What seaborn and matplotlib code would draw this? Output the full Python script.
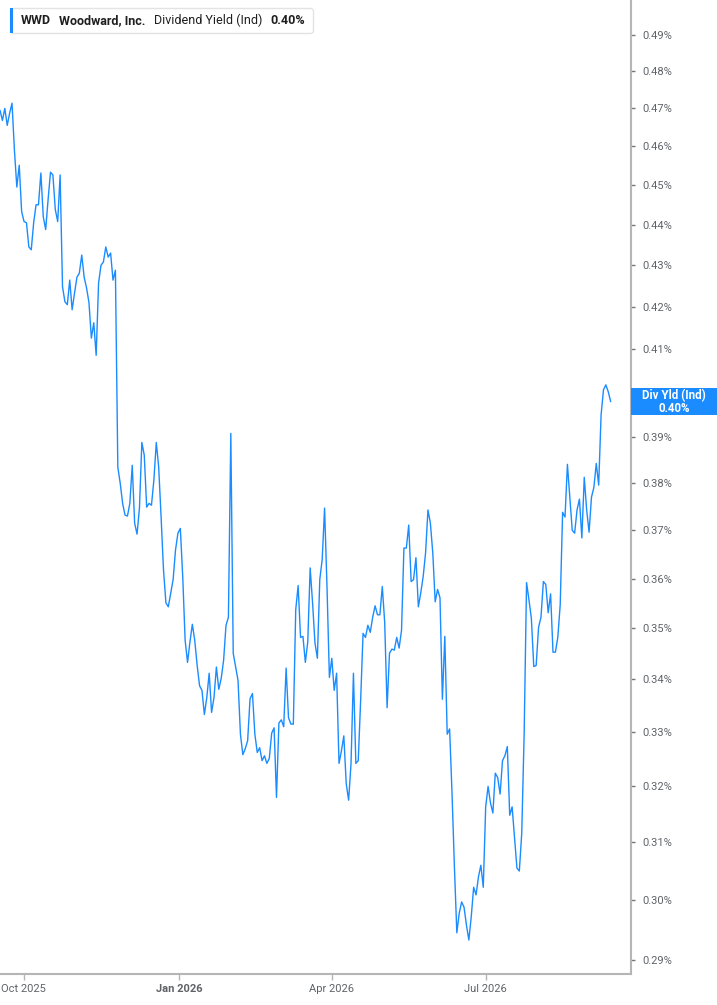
import matplotlib
matplotlib.use("Agg")
import matplotlib.pyplot as plt
from matplotlib.ticker import FixedLocator, FuncFormatter, NullLocator
from matplotlib.offsetbox import AnchoredOffsetbox, HPacker, TextArea, DrawingArea
from matplotlib.patches import Rectangle
import seaborn as sns
import pandas as pd

ticker = "WWD"
company = "Woodward, Inc."
metric = "Dividend Yield (Ind)"
tag_label = "Div Yld (Ind)"

# dividend yield in %, roughly one reading per trading day, Sep 2025 -> Sep 2026
div_yield = [
    0.4695, 0.4668, 0.4700, 0.4655, 0.4687, 0.4714, 0.4590, 0.4495, 0.4551, 0.4433,
    0.4408, 0.4405, 0.4345, 0.4338, 0.4405, 0.4450, 0.4450, 0.4531, 0.4420, 0.4388,
    0.4463, 0.4533, 0.4526, 0.4438, 0.4408, 0.4526, 0.4248, 0.4212, 0.4205, 0.4264,
    0.4193, 0.4233, 0.4271, 0.4281, 0.4325, 0.4271, 0.4245, 0.4210, 0.4126, 0.4162,
    0.4086, 0.4257, 0.4300, 0.4308, 0.4345, 0.4320, 0.4330, 0.4264, 0.4288,
    # late Nov drop
    0.3835, 0.3800, 0.3757, 0.3732, 0.3730, 0.3757, 0.3839, 0.3715, 0.3692, 0.3747,
    0.3889, 0.3861, 0.3749, 0.3757, 0.3753, 0.3807, 0.3889, 0.3835, 0.3728, 0.3618,
    0.3551, 0.3543, 0.3571, 0.3598, 0.3659, 0.3694, 0.3704, 0.3604, 0.3476, 0.3433,
    0.3473, 0.3508, 0.3476, 0.3427, 0.3388, 0.3379, 0.3333, 0.3365, 0.3412, 0.3337,
    0.3365, 0.3424, 0.3381, 0.3402, 0.3437, 0.3506, 0.3522, 0.3909, 0.3451, 0.3424,
    0.3398, 0.3296, 0.3258, 0.3269, 0.3284, 0.3363, 0.3373, 0.3296, 0.3262, 0.3271,
    0.3247,
    # Feb - May
    0.3256, 0.3242, 0.3251, 0.3298, 0.3308, 0.3180, 0.3317, 0.3323, 0.3310, 0.3422,
    0.3327, 0.3315, 0.3315, 0.3537, 0.3586, 0.3482, 0.3484, 0.3433, 0.3473, 0.3622,
    0.3551, 0.3471, 0.3441, 0.3598, 0.3639, 0.3747, 0.3584, 0.3404, 0.3441, 0.3379,
    0.3412, 0.3242, 0.3265, 0.3293, 0.3205, 0.3175, 0.3242, 0.3412, 0.3242, 0.3247,
    0.3360, 0.3490, 0.3482, 0.3506, 0.3492, 0.3522, 0.3545, 0.3527, 0.3527, 0.3584,
    0.3512, 0.3346, 0.3451, 0.3459, 0.3457, 0.3482, 0.3461, 0.3496,
    # May - Aug
    0.3663, 0.3663, 0.3711, 0.3594, 0.3598, 0.3643, 0.3543, 0.3571, 0.3604, 0.3653,
    0.3743, 0.3715, 0.3653, 0.3553, 0.3578, 0.3561, 0.3362, 0.3484, 0.3296, 0.3306,
    0.3188, 0.3057, 0.2945, 0.2978, 0.2997, 0.2988, 0.2958, 0.2933, 0.2972, 0.3022,
    0.3009, 0.3040, 0.3060, 0.3022, 0.3163, 0.3200, 0.3170, 0.3152, 0.3224, 0.3216,
    0.3186, 0.3247, 0.3256, 0.3273, 0.3148, 0.3163, 0.3109, 0.3055, 0.3050, 0.3116,
    0.3296, 0.3592, 0.3557, 0.3520, 0.3425, 0.3427, 0.3502, 0.3522,
    # Aug - Sep
    0.3594, 0.3588, 0.3531, 0.3569, 0.3453, 0.3453, 0.3482, 0.3547, 0.3738, 0.3728,
    0.3841, 0.3770, 0.3700, 0.3694, 0.3743, 0.3766, 0.3684, 0.3813, 0.3743, 0.3696,
    0.3770, 0.3791, 0.3843, 0.3796, 0.3950, 0.4007, 0.4018, 0.4002, 0.3980,
]

y_ticks = [0.29, 0.30, 0.31, 0.32, 0.33, 0.34, 0.35, 0.36, 0.37, 0.38,
           0.39, 0.40, 0.41, 0.42, 0.43, 0.44, 0.45, 0.46, 0.47, 0.48, 0.49]
x_ticks = ["2025-10-01", "2026-01-01", "2026-04-01", "2026-07-01"]

dates = pd.date_range("2025-09-17", "2026-09-13", periods=len(div_yield))
df = pd.DataFrame({"date": dates, "yield": div_yield})

blue = "#1a8cff"
grey_axis = "#b5b5b5"
W, H = 717, 1005

sns.set_theme(style="white")
plt.rcParams["font.family"] = ["Roboto", "DejaVu Sans"]

fig = plt.figure(figsize=(W / 100, H / 100), dpi=100)
ax = fig.add_axes([0, 31 / H, 631 / W, 974 / H])

sns.lineplot(data=df, x="date", y="yield", ax=ax, color=blue, linewidth=1.0)

ax.set_yscale("log")
ax.set_ylim(0.2877, 0.4998)
ax.set_xlim(pd.Timestamp("2025-09-17"), pd.Timestamp("2026-09-25"))
ax.yaxis.set_major_locator(FixedLocator(y_ticks))
ax.yaxis.set_minor_locator(NullLocator())
ax.yaxis.set_major_formatter(FuncFormatter(lambda v, _: f"{v:.2f}%"))
ax.yaxis.tick_right()
ax.set_xlabel("")
ax.set_ylabel("")

tick_dates = pd.to_datetime(x_ticks)
ax.set_xticks(tick_dates)
ax.set_xticklabels([d.strftime("%b %Y") for d in tick_dates])
for lbl in ax.get_xticklabels():
    if lbl.get_text().startswith("Jan"):
        lbl.set_fontweight("bold")
        lbl.set_fontsize(9.5)

for side in ["left", "top"]:
    ax.spines[side].set_visible(False)
for side in ["right", "bottom"]:
    ax.spines[side].set_color(grey_axis)
    ax.spines[side].set_linewidth(1.5)

ax.tick_params(axis="y", which="major", right=True, left=False, length=3, width=1,
               color="#777777", labelcolor="#5f6368", labelsize=8, pad=5)
ax.tick_params(axis="x", which="major", bottom=True, length=4, width=1,
               color=grey_axis, labelcolor="#5f6368", labelsize=8, pad=3)

# last value tag sitting on the right axis
last = div_yield[-1]
y_pix = ax.transData.transform((ax.get_xlim()[1], last))[1]
tag_h = 27
fig.add_artist(Rectangle((631 / W, (y_pix - tag_h / 2) / H), 86 / W, tag_h / H,
                         transform=fig.transFigure, fc=blue, ec="none", zorder=5))
fig.text(674 / W, y_pix / H, f"{tag_label}\n{last:.2f}%", ha="center", va="center",
         color="white", fontsize=8.3, fontweight="bold", linespacing=1.0, zorder=6)

# header box
bar = DrawingArea(2.2, 18, 0, 0)
bar.add_artist(Rectangle((0, 0), 2.2, 18, fc=blue, ec="none"))
txt_kw = dict(size=9, color="#1f1f1f")
parts = [
    TextArea(ticker, textprops=dict(weight="bold", **txt_kw)),
    TextArea(company, textprops=dict(weight="bold", **txt_kw)),
    TextArea(metric, textprops=dict(weight="normal", **txt_kw)),
    TextArea(f"{last:.2f}%", textprops=dict(weight="bold", **txt_kw)),
    DrawingArea(0, 18, 0, 0),
]
pack = HPacker(children=[bar] + parts, align="center", pad=0, sep=5.8)
box = AnchoredOffsetbox(loc="upper left", child=pack, pad=0, borderpad=0, frameon=True,
                        bbox_to_anchor=(10 / W, 1 - 8 / H),
                        bbox_transform=fig.transFigure)
box.patch.set_boxstyle("round,pad=0,rounding_size=0.2")
box.patch.set_edgecolor("#e3e3e3")
box.patch.set_linewidth(1)
box.patch.set_facecolor("white")
fig.add_artist(box)

fig.savefig("out.png", dpi=100)
